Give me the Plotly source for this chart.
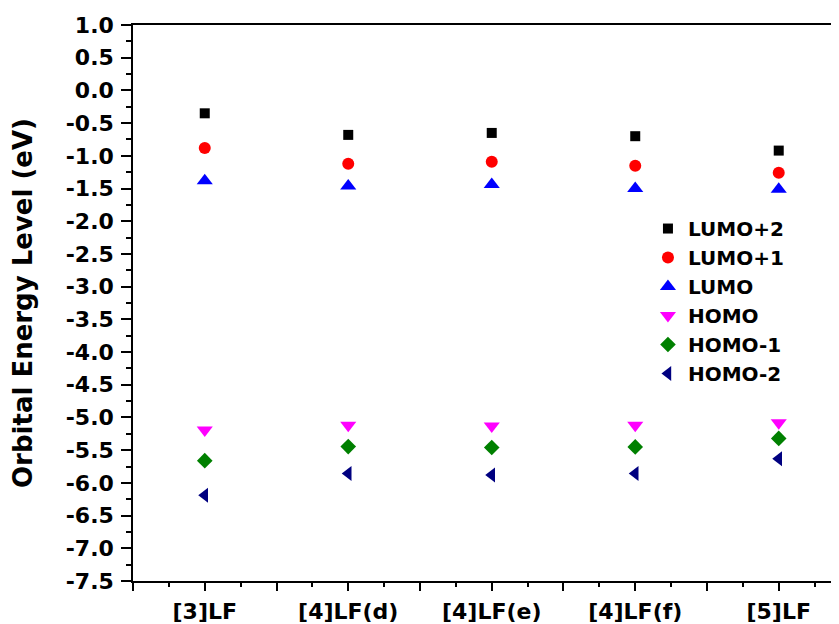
import plotly.graph_objects as go

categories = ["[3]LF", "[4]LF(d)", "[4]LF(e)", "[4]LF(f)", "[5]LF"]
lumo_p2 = [-0.35, -0.68, -0.65, -0.70, -0.92]
lumo_p1 = [-0.88, -1.12, -1.09, -1.15, -1.26]
lumo = [-1.38, -1.46, -1.44, -1.50, -1.51]
homo = [-5.19, -5.12, -5.13, -5.12, -5.08]
homo_m1 = [-5.66, -5.445, -5.46, -5.45, -5.32]
homo_m2 = [-6.19, -5.855, -5.88, -5.855, -5.63]
y_ticks = [1.0 - 0.5 * i for i in range(18)]

series = [
    ("LUMO+2", lumo_p2, "square", "#000000", 10),
    ("LUMO+1", lumo_p1, "circle", "#FF0000", 12),
    ("LUMO", lumo, "triangle-up", "#0000FF", 14),
    ("HOMO", homo, "triangle-down", "#FF00FF", 14),
    ("HOMO-1", homo_m1, "diamond", "#008000", 12),
    ("HOMO-2", homo_m2, "triangle-left", "#000080", 13),
]

xpos = list(range(1, len(categories) + 1))

fig = go.Figure()
for name, vals, sym, col, sz in series:
    fig.add_trace(go.Scatter(
        x=xpos, y=vals, mode="markers", name=name,
        marker=dict(symbol=sym, color=col, size=sz, line=dict(width=0)),
    ))

tickvals = []
ticktext = []
for i, c in enumerate(categories):
    tickvals += [i + 0.5, i + 1]
    ticktext += ["", c]
tickvals.append(len(categories) + 0.5)
ticktext.append("")

font_fam = "DejaVu Sans"
# page body has an 8px margin, so margins are offset by 8px
fig.update_layout(
    width=839, height=624, autosize=False,
    margin=dict(l=125, r=8, t=17, b=51),
    plot_bgcolor="white", paper_bgcolor="white",
    font=dict(family=font_fam, color="black"),
    showlegend=True,
    legend=dict(
        x=0.7294, y=0.669, xanchor="left", yanchor="top",
        font=dict(family=font_fam, size=20, color="black", weight="bold"),
        bgcolor="rgba(0,0,0,0)", borderwidth=0,
    ),
    xaxis=dict(
        range=[0.5, 5.42], tickmode="array", tickvals=tickvals, ticktext=ticktext,
        ticks="outside", ticklen=8, tickwidth=1.5, tickcolor="black",
        minor=dict(dtick=0.25, tick0=0.5, ticks="outside", ticklen=4, tickwidth=1.5, tickcolor="black"),
        showline=True, linecolor="black", linewidth=1.5, mirror=True,
        showgrid=False, zeroline=False, automargin=False,
        ticklabelstandoff=2,
        tickfont=dict(family=font_fam, size=22, color="black", weight="bold"),
    ),
    yaxis=dict(
        range=[-7.5, 1.0], tickmode="array", tickvals=y_ticks,
        ticktext=[f"{v:.1f}" for v in y_ticks],
        ticks="outside", ticklen=10, tickwidth=1.5, tickcolor="black",
        minor=dict(dtick=0.25, tick0=0, ticks="outside", ticklen=5, tickwidth=1.5, tickcolor="black"),
        showline=True, linecolor="black", linewidth=1.5,
        showgrid=False, zeroline=False, automargin=False,
        ticklabelstandoff=3,
        tickfont=dict(family=font_fam, size=22, color="black", weight="bold"),
        title=dict(text="Orbital Energy Level (eV)", standoff=26,
                   font=dict(family=font_fam, size=26, color="black", weight="bold")),
    ),
)

fig.write_html("out.html")
